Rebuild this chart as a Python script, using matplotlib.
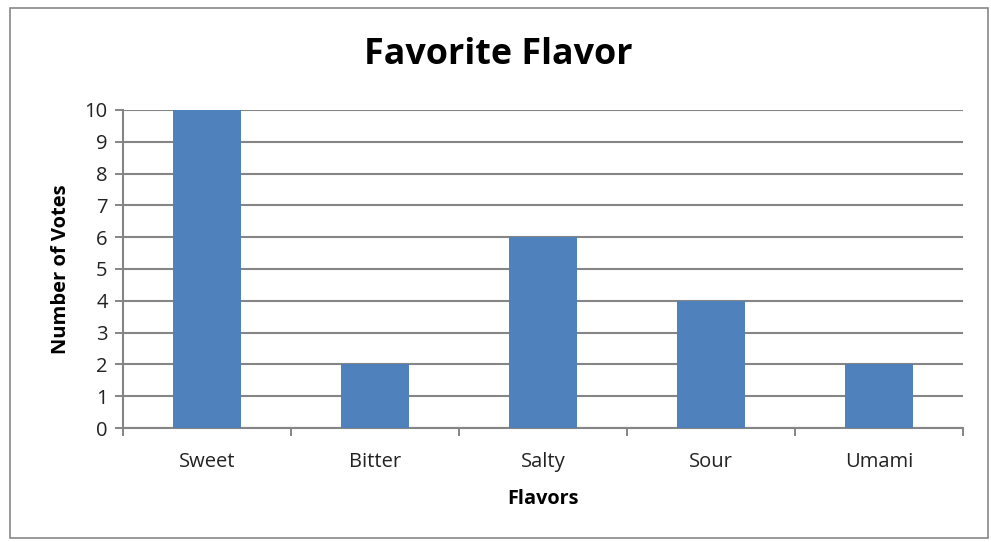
import matplotlib
matplotlib.use("Agg")
import matplotlib.pyplot as plt
from matplotlib.patches import Rectangle
import numpy as np

categories = ["Sweet", "Bitter", "Salty", "Sour", "Umami"]
votes = [10, 2, 6, 4, 2]
yticks = list(range(0, 11))

W, H = 991, 542
fig = plt.figure(figsize=(W/100, H/100), dpi=100)
fam = ["Open Sans", "DejaVu Sans"]

# outer border
fig.patches.append(Rectangle((10/W, 4/H), 978/W, 530/H, transform=fig.transFigure,
                             fill=False, edgecolor="#888888", linewidth=1.2))

ax = fig.add_axes([123/W, 1-428/H, 840/W, 318/H])
x = np.arange(len(categories))
ax.bar(x, votes, width=0.4, color="#4F81BD", zorder=3)
ax.set_xlim(-0.5, len(categories)-0.5)
ax.set_ylim(0, 10)
ax.set_yticks(yticks)
ax.set_yticklabels([str(t) for t in yticks], fontsize=14.5, family=fam, color="#222222")
ax.set_xticks(x)
ax.set_xticklabels(categories, fontsize=14.5, family=fam, color="#222222")
ax.tick_params(axis="x", which="major", length=0, pad=17.5)
ax.set_xticks(np.arange(-0.5, len(categories)), minor=True)
ax.tick_params(axis="x", which="minor", length=6, width=1.4, color="#858585", direction="out")
ax.tick_params(axis="y", length=6, width=1.4, color="#858585", direction="out", pad=5)
ax.grid(axis="y", color="#858585", linewidth=1.5, zorder=0)
for s in ["top", "right"]:
    ax.spines[s].set_visible(False)
for s in ["left", "bottom"]:
    ax.spines[s].set_color("#858585")
    ax.spines[s].set_linewidth(1.5)

ax.set_xlabel("Flavors", fontsize=14.3, fontweight="bold", family=fam, labelpad=12)
ax.set_ylabel("Number of Votes", fontsize=14.5, fontweight="bold", family=fam, labelpad=10)
fig.text(498/W, 1-55/H, "Favorite Flavor", fontsize=25.8, fontweight="bold", family=fam,
         ha="center", va="center")

fig.savefig("out.png", dpi=100)
